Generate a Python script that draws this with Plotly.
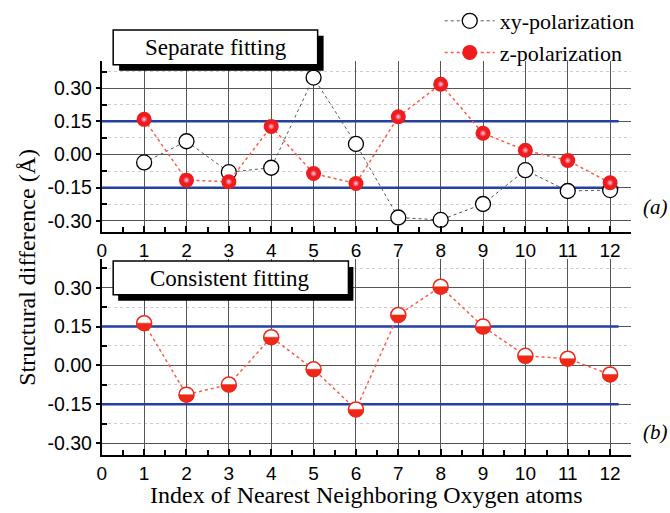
import numpy as np
import plotly.graph_objects as go

# ---------------- data ----------------
index = list(range(1, 13))
xy_separate = [-0.036, 0.060, -0.080, -0.060, 0.348, 0.048, -0.285, -0.296, -0.224, -0.071, -0.165, -0.161]
z_separate = [0.159, -0.116, -0.123, 0.127, -0.086, -0.131, 0.171, 0.318, 0.096, 0.019, -0.027, -0.128]
z_consistent = [0.163, -0.113, -0.074, 0.109, -0.015, -0.170, 0.195, 0.304, 0.150, 0.037, 0.026, -0.035]
thresholds = [0.15, -0.15]
threshold_end = 12.2
ytick_vals = [0.30, 0.15, 0.00, -0.15, -0.30]
ytick_text = ["0.30", "0.15", "0.00", "-0.15", "-0.30"]
xtick_vals = list(range(0, 13))

W, H = 670, 513
SERIF = "Liberation Serif"
SANS = "Liberation Sans"
RED = "#f02818"
BLUE = "#2440a0"

def px(x):
    return x / W

def py(y):
    return 1 - y / H

fig = go.Figure()

# top panel
fig.add_trace(go.Scatter(
    x=index, y=xy_separate, mode="lines+markers", name="xy-polarization",
    line=dict(color="#555555", width=1, dash="dot"),
    marker=dict(symbol="circle", size=15, color="white", line=dict(color="black", width=1.3)),
    xaxis="x", yaxis="y"))
fig.add_trace(go.Scatter(
    x=index, y=z_separate, mode="lines+markers", name="z-polarization",
    line=dict(color="#ff5a48", width=1.5, dash="dot"),
    marker=dict(symbol="circle", size=15, color="#ee1c1c", line=dict(width=0)),
    xaxis="x", yaxis="y"))
fig.add_trace(go.Scatter(
    x=index, y=z_separate, mode="markers", showlegend=False, hoverinfo="skip",
    marker=dict(symbol="circle", size=7, color="#ee1c1c",
                gradient=dict(type="radial", color="#f4c8f4"), line=dict(width=0)),
    xaxis="x", yaxis="y"))

# bottom panel
fig.add_trace(go.Scatter(
    x=index, y=z_consistent, mode="lines+markers", showlegend=False,
    line=dict(color="#ff5a48", width=1.5, dash="dot"),
    marker=dict(symbol="circle", size=15, color="white", line=dict(color=RED, width=1.5)),
    xaxis="x2", yaxis="y2"))

shapes = []
# threshold lines
for ax in ["", "2"]:
    for t in thresholds:
        shapes.append(dict(type="line", xref="x" + ax, yref="y" + ax, x0=0, x1=threshold_end,
                           y0=t, y1=t, line=dict(color=BLUE, width=2.5), layer="between"))

# half-filled markers (lower half red)
r = 7.5
ang = np.linspace(np.pi, 2 * np.pi, 25)
pts = [(r * np.cos(a), r * np.sin(a)) for a in ang]
path = "M " + " L ".join(f"{a:.2f},{b:.2f}" for a, b in pts) + " Z"
for xv, yv in zip(index, z_consistent):
    shapes.append(dict(type="path", xref="x2", yref="y2", xsizemode="pixel", ysizemode="pixel",
                       xanchor=xv, yanchor=yv, path=path, fillcolor=RED,
                       line=dict(color=RED, width=0.5), layer="above"))

# title boxes with shadow
def box(x0, y0, x1, y1, sx, sy):
    shapes.append(dict(type="rect", xref="paper", yref="paper",
                       x0=px(x0 + sx), x1=px(x1 + sx), y0=py(y0 + sy), y1=py(y1 + sy),
                       fillcolor="black", line=dict(width=0), layer="above"))
    shapes.append(dict(type="rect", xref="paper", yref="paper",
                       x0=px(x0), x1=px(x1), y0=py(y0), y1=py(y1),
                       fillcolor="white", line=dict(color="black", width=1.5), layer="above"))

box(109, 28, 315, 63, 6, 6)
box(109, 260, 346, 294, 5, 6)

def ann(text, x, y, size, angle=0):
    return dict(text=text, x=px(x), y=py(y), xref="paper", yref="paper",
                xanchor="center", yanchor="middle", showarrow=False, textangle=angle,
                font=dict(family=SERIF, size=size, color="black"))

annotations = [
    ann("Separate fitting", 213, 46, 23),
    ann("Consistent fitting", 227, 278, 23),
    ann("<i>(a)</i>", 655, 206, 21),
    ann("<i>(b)</i>", 655, 432, 21),
    ann("Structural difference (Å)", 22, 266, 24, -90),
    ann("Index of Nearest Neighboring Oxygen atoms", 364, 495, 24),
]

xaxis_common = dict(
    range=[0, 12.5], tickvals=xtick_vals, ticks="inside", ticklen=6, tickwidth=1.5,
    tickcolor="black", showline=True, linecolor="black", linewidth=2,
    showgrid=True, gridcolor="#555555", gridwidth=1.2, zeroline=False,
    tickfont=dict(family=SANS, size=19, color="black"),
    minor=dict(dtick=0.5, ticks="inside", ticklen=5, tickwidth=1.5, tickcolor="black", showgrid=False),
)
yaxis_common = dict(
    tickvals=ytick_vals, ticktext=ytick_text, ticks="outside", ticklen=4, tickwidth=1.5,
    tickcolor="black", showline=True, linecolor="black", linewidth=2,
    showgrid=True, gridcolor="#555555", gridwidth=1.2, zeroline=False,
    tickfont=dict(family=SANS, size=19.5, color="black"),
    minor=dict(tickvals=[0.375, 0.225, 0.075, -0.075, -0.225], ticks="inside", ticklen=5,
               tickwidth=1.5, tickcolor="black", showgrid=True, gridcolor="#cccccc",
               griddash="dot", gridwidth=1),
)

x_dom = [px(97.5), px(631)]
fig.update_layout(
    width=W, height=H, margin=dict(l=0, r=0, t=0, b=0),
    paper_bgcolor="white", plot_bgcolor="white",
    xaxis=dict(domain=x_dom, anchor="y", **xaxis_common),
    yaxis=dict(domain=[py(231), py(59)], anchor="x", range=[-0.351, 0.424], **yaxis_common),
    xaxis2=dict(domain=x_dom, anchor="y2", **xaxis_common),
    yaxis2=dict(domain=[py(455), py(258)], anchor="x2", range=[-0.347, 0.411], **yaxis_common),
    shapes=shapes, annotations=annotations,
    legend=dict(x=px(438), y=py(-2), xanchor="left", yanchor="top", bgcolor="rgba(0,0,0,0)",
                font=dict(family=SERIF, size=22, color="black"), tracegroupgap=0,
                itemwidth=50),
    showlegend=True,
)

fig.write_html("out.html")
